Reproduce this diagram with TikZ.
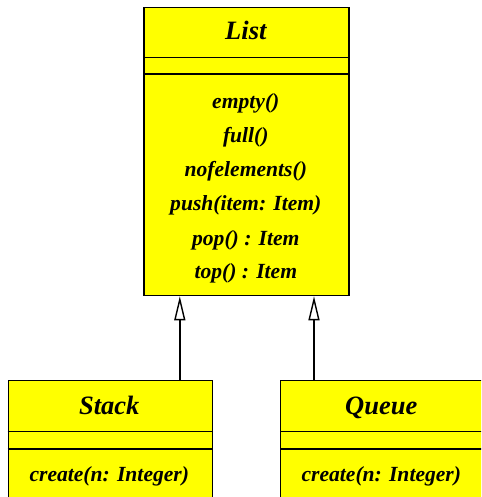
\documentclass[tikz,border=0pt]{standalone}
\usepackage{fontspec}
\setmainfont{Liberation Serif}
\usetikzlibrary{arrows.meta}
\definecolor{umlyellow}{RGB}{255,255,0}
\begin{document}
\begin{tikzpicture}[x=1pt,y=-1pt,
  classbox/.style={draw=black, fill=umlyellow, line width=1.3pt, rectangle, anchor=north west, inner sep=0pt},
  sepline/.style={draw=black, line width=1.3pt},
  titletext/.style={anchor=base, font=\fontsize{26.5}{28}\selectfont\bfseries\itshape, inner sep=0pt},
  optext/.style={anchor=base, font=\fontsize{21.6}{24}\selectfont\bfseries\itshape, inner sep=0pt},
  inherit/.style={draw=black, line width=1.5pt, -{Triangle[open, length=24pt, width=11pt, line width=1.4pt]}}]
\clip (0,0) rectangle (481,497);
\fill[white] (0,0) rectangle (481,497);
% List
\node[classbox, minimum width=205pt, minimum height=288.3pt] (list) at (143.3,6.7) {};
\draw[sepline] (143.3,57.3) -- (348.3,57.3);
\draw[sepline] (143.3,74) -- (348.3,74);
\node[titletext] (listname) at (245.8,40) {List};
\node[optext] (op1) at (245.8,109) {empty()};
\node[optext] (op2) at (245.8,142.7) {full()};
\node[optext] (op3) at (245.8,176.7) {nofelements()};
\node[optext] (op4) at (245.8,210.7) {push(item: Item)};
\node[optext] (op5) at (245.8,245) {pop() : Item};
\node[optext] (op6) at (245.8,278.3) {top() : Item};
% Stack
\node[classbox, minimum width=204pt, minimum height=140pt] (stack) at (7.7,380) {};
\draw[sepline] (7.7,431.7) -- (211.7,431.7);
\draw[sepline] (7.7,449) -- (211.7,449);
\node[titletext] (stackname) at (109.3,414) {Stack};
\node[optext] (stackop) at (109.3,481.7) {create(n: Integer)};
% Queue
\node[classbox, minimum width=204pt, minimum height=140pt] (queue) at (280,380) {};
\draw[sepline] (280,431.7) -- (484,431.7);
\draw[sepline] (280,449) -- (484,449);
\node[titletext] (queuename) at (381.3,414) {Queue};
\node[optext] (queueop) at (381.3,481.7) {create(n: Integer)};
% Inheritance
\draw[inherit] ([xshift=-33.2pt]stack.north east) -- ([xshift=-33.2pt]stack.north east |- list.south);
\draw[inherit] ([xshift=34pt]queue.north west) -- ([xshift=34pt]queue.north west |- list.south);
\end{tikzpicture}
\end{document}
